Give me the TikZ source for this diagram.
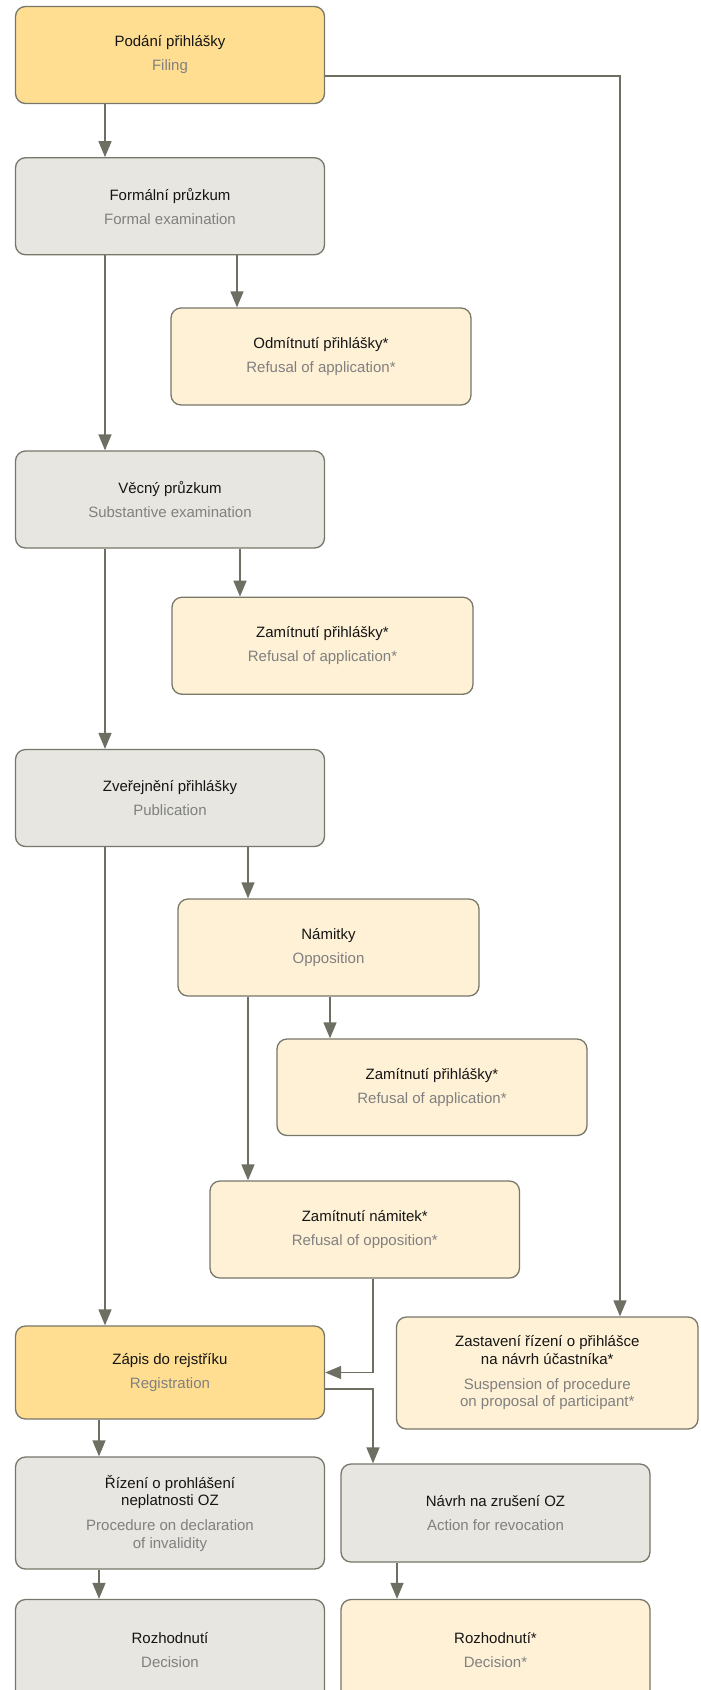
\documentclass[tikz,border=0pt]{standalone}
\usepackage{fontspec}
\setmainfont{Liberation Sans}
\usetikzlibrary{arrows.meta,calc}
\definecolor{dy}{HTML}{FFDE91}
\definecolor{ly}{HTML}{FFF1D6}
\definecolor{gy}{HTML}{E7E6E0}
\definecolor{bd}{HTML}{77776A}
\definecolor{ar}{HTML}{6E6F63}
\definecolor{subc}{HTML}{808080}
\definecolor{ttl}{HTML}{151515}
\tikzset{
  box/.style={draw=bd, line width=1.3pt, rounded corners=10pt, align=center,
    inner sep=0pt, font=\fontsize{15}{17.5}\selectfont, text=ttl},
  dbox/.style={box, fill=dy},
  lbox/.style={box, fill=ly},
  gbox/.style={box, fill=gy},
  conn/.style={draw=ar, line width=1.5pt, -{Triangle[length=16pt,width=13pt]}},
}
\begin{document}
\begin{tikzpicture}[x=1pt,y=-1pt]
\clip (0,0) rectangle (701,1690);
\fill[white] (0,0) rectangle (701,1690);
% guide coordinates
\coordinate (xA) at (105,0);
\coordinate (xB) at (237,0);
\coordinate (xC) at (240,0);
\coordinate (xD) at (248,0);
\coordinate (xE) at (330,0);
\coordinate (xF) at (373,0);
\coordinate (xR) at (620,0);
\coordinate (xL) at (99,0);
\coordinate (xN) at (397,0);
\coordinate (yP) at (0,76);
\coordinate (yZ) at (0,1389);
% nodes
\node[dbox, minimum width=309pt, minimum height=97pt] (podani) at (170,55)
  {Podání přihlášky\\[6.5pt]\color{subc}Filing};
\node[gbox, minimum width=309pt, minimum height=97pt] (formalni) at (170,206.25)
  {Formální průzkum\\[6.5pt]\color{subc}Formal examination};
\node[lbox, minimum width=300pt, minimum height=97pt] (odmitnuti) at (321,356.5)
  {Odmítnutí přihlášky*\\[6.5pt]\color{subc}Refusal of application*};
\node[gbox, minimum width=309pt, minimum height=97pt] (vecny) at (170,499.5)
  {Věcný průzkum\\[6.5pt]\color{subc}Substantive examination};
\node[lbox, minimum width=301pt, minimum height=97pt] (zamitnutiA) at (322.5,645.75)
  {Zamítnutí přihlášky*\\[6.5pt]\color{subc}Refusal of application*};
\node[gbox, minimum width=309pt, minimum height=97pt] (zverejneni) at (170,798)
  {Zveřejnění přihlášky\\[6.5pt]\color{subc}Publication};
\node[lbox, minimum width=301pt, minimum height=97pt] (namitky) at (328.5,947.5)
  {Námitky\\[6.5pt]\color{subc}Opposition};
\node[lbox, minimum width=310pt, minimum height=96.5pt] (zamitnutiB) at (432,1087.25)
  {Zamítnutí přihlášky*\\[6.5pt]\color{subc}Refusal of application*};
\node[lbox, minimum width=309.5pt, minimum height=97pt] (zamnamitek) at (364.75,1229.5)
  {Zamítnutí námitek*\\[6.5pt]\color{subc}Refusal of opposition*};
\node[dbox, minimum width=309pt, minimum height=93pt] (zapis) at (170,1372.5)
  {Zápis do rejstříku\\[6.5pt]\color{subc}Registration};
\node[lbox, minimum width=301.5pt, minimum height=112pt] (zastaveni) at (547.25,1373)
  {Zastavení řízení o přihlášce\\na návrh účastníka*\\[7.5pt]\color{subc}Suspension of procedure\\\color{subc}on proposal of participant*};
\node[gbox, minimum width=309pt, minimum height=112pt] (rizeni) at (170,1513)
  {Řízení o prohlášení\\neplatnosti OZ\\[7.5pt]\color{subc}Procedure on declaration\\\color{subc}of invalidity};
\node[gbox, minimum width=309pt, minimum height=98pt] (navrh) at (495.5,1513)
  {Návrh na zrušení OZ\\[6.5pt]\color{subc}Action for revocation};
\node[gbox, minimum width=309pt, minimum height=101pt] (rozhodnuti) at (170,1650)
  {Rozhodnutí\\[6.5pt]\color{subc}Decision};
\node[lbox, minimum width=309pt, minimum height=101pt] (rozhodnutiB) at (495.5,1650)
  {Rozhodnutí*\\[6.5pt]\color{subc}Decision*};
% connectors
\draw[conn] (podani.south -| xA) -- (formalni.north -| xA);
\draw[conn] (podani.east |- yP) -| (zastaveni.north -| xR);
\draw[conn] (formalni.south -| xB) -- (odmitnuti.north -| xB);
\draw[conn] (formalni.south -| xA) -- (vecny.north -| xA);
\draw[conn] (vecny.south -| xC) -- (zamitnutiA.north -| xC);
\draw[conn] (vecny.south -| xA) -- (zverejneni.north -| xA);
\draw[conn] (zverejneni.south -| xD) -- (namitky.north -| xD);
\draw[conn] (zverejneni.south -| xA) -- (zapis.north -| xA);
\draw[conn] (namitky.south -| xE) -- (zamitnutiB.north -| xE);
\draw[conn] (namitky.south -| xD) -- (zamnamitek.north -| xD);
\draw[conn] (zamnamitek.south -| xF) |- (zapis.east);
\draw[conn] (zapis.east |- yZ) -| (navrh.north -| xF);
\draw[conn] (zapis.south -| xL) -- (rizeni.north -| xL);
\draw[conn] (rizeni.south -| xL) -- (rozhodnuti.north -| xL);
\draw[conn] (navrh.south -| xN) -- (rozhodnutiB.north -| xN);
\end{tikzpicture}
\end{document}
